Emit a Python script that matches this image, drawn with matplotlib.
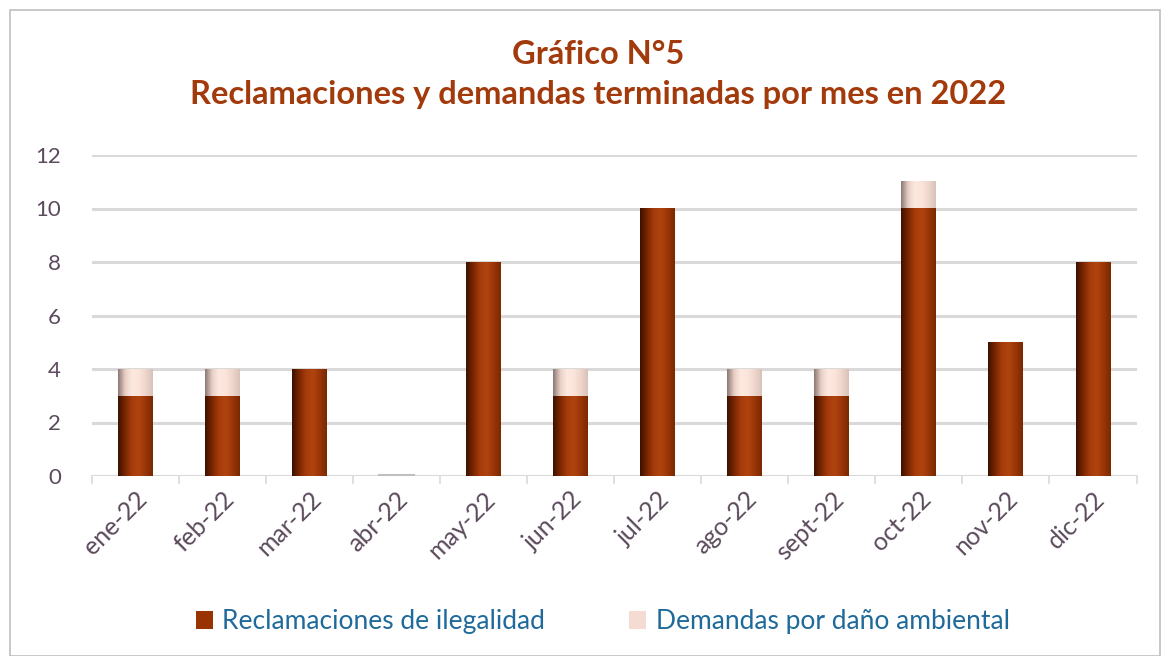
import matplotlib
matplotlib.use("Agg")
import matplotlib.pyplot as plt
import numpy as np
from matplotlib.patches import Rectangle, Patch
from matplotlib.colors import LinearSegmentedColormap

months = ["ene-22", "feb-22", "mar-22", "abr-22", "may-22", "jun-22",
          "jul-22", "ago-22", "sept-22", "oct-22", "nov-22", "dic-22"]
reclamaciones = [3, 3, 4, 0, 8, 3, 10, 3, 3, 10, 5, 8]
demandas = [1, 1, 0, 0, 0, 1, 0, 1, 1, 1, 0, 0]

title = "Gráfico N°5\nReclamaciones y demandas terminadas por mes en 2022"
labels = ["Reclamaciones de ilegalidad", "Demandas por daño ambiental"]

plt.rcParams['font.family'] = ['Lato', 'DejaVu Sans']

fig = plt.figure(figsize=(11.7, 6.56), dpi=100)
ax = fig.add_axes([91.5/1170, 1-476/656, (1136.5-91.5)/1170, (476-155)/656])

cmap_dark = LinearSegmentedColormap.from_list(
    "d", ["#3d1200", "#7a2600", "#a63c0c", "#b0440f", "#9a3508", "#7a2800"])
cmap_light = LinearSegmentedColormap.from_list(
    "l", ["#8c7a74", "#e8cfc6", "#fde9e0", "#fbe4da", "#eed6cc", "#d9c2b9"])
grad = np.linspace(0, 1, 64).reshape(1, -1)

x = np.arange(len(months))
w = 0.4

for yv in range(0, 13, 2):
    ax.axhline(yv, color="#d9d9d9", lw=2.2, zorder=0)

for i in x:
    b = reclamaciones[i]
    t = demandas[i]
    if b > 0:
        ax.imshow(grad, cmap=cmap_dark, aspect="auto",
                  extent=(i - w/2, i + w/2, 0, b), zorder=2, interpolation="bilinear")
    if t > 0:
        ax.imshow(grad, cmap=cmap_light, aspect="auto",
                  extent=(i - w/2, i + w/2, b, b + t), zorder=2, interpolation="bilinear")
    if b + t == 0:
        ax.plot([i - w/2, i + w/2], [0.02, 0.02], color="#bfbfbf", lw=1.5, zorder=2)

ax.set_xlim(-0.5, len(months) - 0.5)
ax.set_ylim(0, 12)

ax.set_yticks(range(0, 13, 2))
ax.set_xticks(x)
ax.set_xticklabels(months, rotation=45, ha="right", rotation_mode="anchor")
ax.tick_params(axis="y", length=0, pad=22, labelsize=16, labelcolor="#5b4a5b")
ax.tick_params(axis="x", length=0, pad=8, labelsize=18, labelcolor="#5b4a5b")
for s in ax.spines.values():
    s.set_visible(False)
for xb in np.arange(-0.5, len(months), 1):
    ax.plot([xb, xb], [0, -0.25], color="#d9d9d9", lw=1.2, clip_on=False, zorder=1)

fig.text(0.511, 0.887, title, ha="center", va="center", fontsize=23.5,
         fontweight="bold", color="#a33a0c", linespacing=1.45)

handles = [Patch(facecolor="#993300"), Patch(facecolor="#f4dcd3")]
fig.legend(handles, labels, loc="center", bbox_to_anchor=(0.515, 0.052), ncol=2,
           frameon=False, fontsize=19, handlelength=0.65, handleheight=0.65,
           handletextpad=0.35, columnspacing=3.2, labelcolor="#1f6a9a")

fig.patches.append(Rectangle((10/1170, 0), 1150/1170, 1-10/656, transform=fig.transFigure,
                             fill=False, edgecolor="#bfbfbf", lw=1.2))

fig.savefig("out.png", dpi=100)
